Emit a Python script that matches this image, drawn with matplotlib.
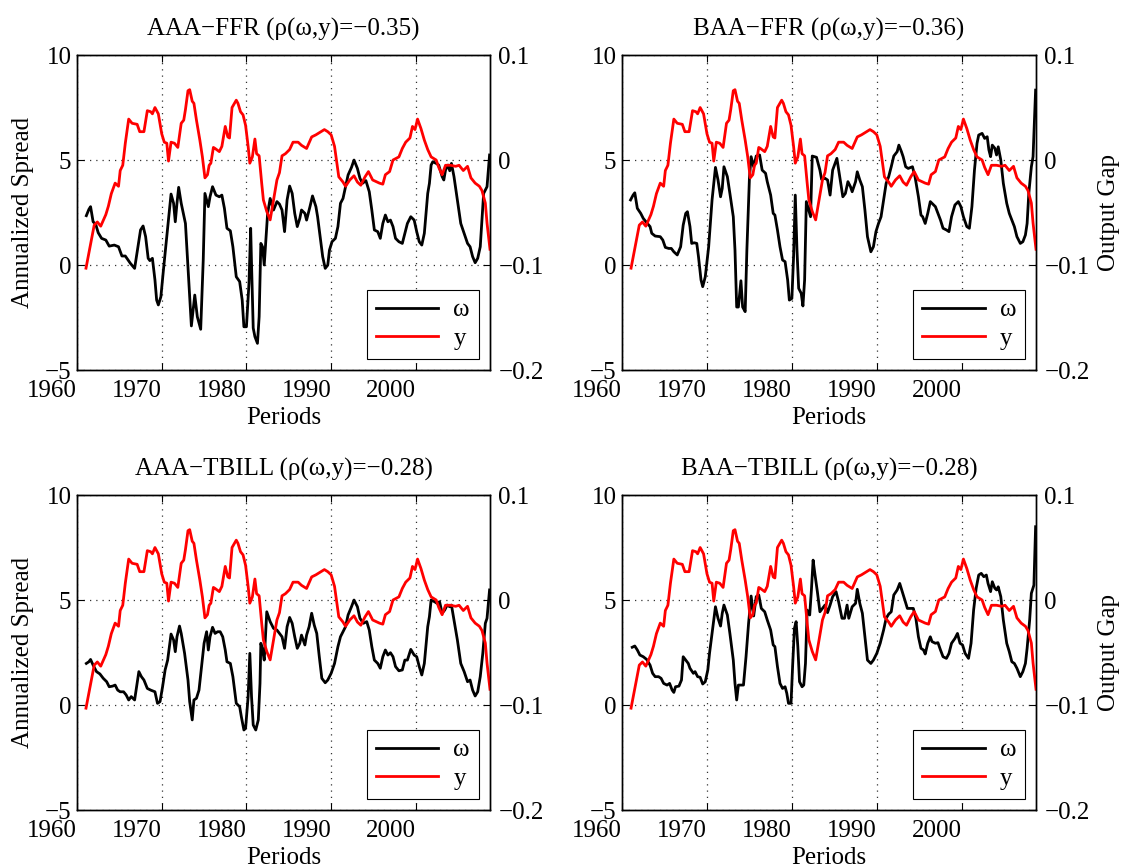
import matplotlib
matplotlib.use('Agg')
import matplotlib.pyplot as plt
from matplotlib.lines import Line2D

plt.rcParams['font.family'] = ['Liberation Serif', 'DejaVu Serif']
plt.rcParams['font.size'] = 18
plt.rcParams['axes.unicode_minus'] = True

# output gap (right axis), same in all four panels
gap_years = [1961.06, 1962.03, 1962.4, 1962.8, 1963.4, 1963.7, 1964.05, 1964.5, 1964.9, 1965.1,
             1965.4, 1965.7, 1966.1, 1966.5, 1967.1, 1967.4, 1967.9, 1968.3, 1968.7, 1968.9,
             1969.2, 1969.6, 1970.0, 1970.3, 1970.6, 1970.8, 1971.1, 1971.5, 1971.9, 1972.3,
             1972.6, 1972.8, 1973.1, 1973.3, 1973.6, 1973.8, 1974.1, 1974.5, 1974.8, 1975.1,
             1975.4, 1975.6, 1975.8, 1976.1, 1976.3, 1976.8, 1977.1, 1977.5, 1977.8, 1978.0,
             1978.3, 1978.8, 1979.0, 1979.3, 1979.6, 1979.9, 1980.2, 1980.4, 1980.7, 1981.0,
             1981.2, 1981.5, 1981.8, 1982.0, 1982.4, 1982.8, 1983.2, 1983.6, 1983.9, 1984.2,
             1984.6, 1985.1, 1985.5, 1986.1, 1986.5, 1987.1, 1987.7, 1988.2, 1988.8, 1989.2,
             1989.6, 1990.0, 1990.4, 1990.9, 1991.4, 1991.7, 1992.2, 1992.7, 1993.1, 1993.5,
             1994.0, 1994.4, 1994.9, 1995.7, 1996.1, 1996.4, 1996.9, 1997.3, 1998.0, 1998.4,
             1998.8, 1999.3, 1999.6, 1999.9, 2000.2, 2000.6, 2001.0, 2001.4, 2001.8, 2002.4,
             2002.7, 2003.1, 2003.5, 2004.1, 2004.7, 2005.1, 2005.6, 2006.1, 2006.5, 2007.0,
             2007.5, 2007.8, 2008.2, 2008.4, 2008.75]
output_gap = [-0.103, -0.062, -0.059, -0.063, -0.052, -0.044, -0.032, -0.022, -0.025, -0.010,
              -0.005, 0.016, 0.039, 0.035, 0.034, 0.027, 0.027, 0.047, 0.046, 0.044,
              0.050, 0.044, 0.025, 0.017, 0.016, -0.001, 0.017, 0.016, 0.012, 0.035,
              0.038, 0.048, 0.066, 0.067, 0.056, 0.054, 0.038, 0.019, 0.003, -0.017,
              -0.014, -0.005, -0.003, 0.012, 0.011, 0.008, 0.013, 0.032, 0.022, 0.021,
              0.050, 0.057, 0.054, 0.046, 0.043, 0.033, 0.013, -0.003, 0.003, 0.020,
              0.006, 0.004, -0.022, -0.038, -0.049, -0.057, -0.038, -0.019, -0.012, 0.004,
              0.006, 0.010, 0.017, 0.017, 0.014, 0.011, 0.022, 0.024, 0.027, 0.029,
              0.027, 0.024, 0.013, -0.016, -0.021, -0.025, -0.019, -0.015, -0.021, -0.024,
              -0.016, -0.011, -0.019, -0.022, -0.023, -0.014, -0.011, 0.000, 0.003, 0.011,
              0.017, 0.021, 0.032, 0.029, 0.039, 0.030, 0.019, 0.010, 0.003, 0.000,
              -0.007, -0.014, -0.005, -0.005, -0.006, -0.005, -0.010, -0.006, -0.017, -0.022,
              -0.025, -0.029, -0.041, -0.060, -0.085]

# AAA-FFR spread
aaa_ffr_years = [1961.1, 1961.4, 1961.6, 1961.9, 1962.2, 1962.5, 1962.9, 1963.4, 1963.8, 1964.4,
                 1964.9, 1965.3, 1965.7, 1966.3, 1966.8, 1967.2, 1967.5, 1967.8, 1968.1, 1968.4,
                 1968.6, 1968.9, 1969.2, 1969.4, 1969.6, 1969.9, 1970.2, 1970.6, 1971.1, 1971.4,
                 1971.6, 1971.8, 1972.0, 1972.3, 1972.8, 1973.1, 1973.5, 1973.9, 1974.2, 1974.6,
                 1974.9, 1975.1, 1975.5, 1975.7, 1976.0, 1976.4, 1976.8, 1977.1, 1977.4, 1977.7,
                 1978.1, 1978.4, 1978.8, 1979.2, 1979.5, 1979.7, 1980.0, 1980.3, 1980.5, 1980.6,
                 1980.8, 1981.0, 1981.3, 1981.5, 1981.7, 1981.9, 1982.1, 1982.5, 1982.8, 1983.2,
                 1983.6, 1983.9, 1984.2, 1984.5, 1984.8, 1985.1, 1985.4, 1985.7, 1986.0, 1986.3,
                 1986.5, 1986.9, 1987.1, 1987.5, 1987.8, 1988.2, 1988.4, 1988.7, 1989.0, 1989.3,
                 1989.6, 1989.8, 1990.1, 1990.5, 1990.8, 1991.1, 1991.4, 1991.7, 1992.0, 1992.4,
                 1992.7, 1993.1, 1993.4, 1993.7, 1994.1, 1994.5, 1994.8, 1995.1, 1995.5, 1995.8,
                 1996.1, 1996.4, 1996.7, 1997.0, 1997.3, 1997.6, 1998.0, 1998.4, 1998.7, 1999.0,
                 1999.4, 1999.8, 2000.1, 2000.4, 2000.7, 2001.0, 2001.4, 2001.6, 2001.8, 2002.0,
                 2002.4, 2002.7, 2003.1, 2003.3, 2003.5, 2003.8, 2004.0, 2004.2, 2004.5, 2004.9,
                 2005.3, 2005.7, 2006.1, 2006.4, 2006.7, 2007.0, 2007.3, 2007.6, 2007.8, 2008.0,
                 2008.2, 2008.4, 2008.7]
aaa_ffr = [2.35, 2.65, 2.78, 2.06, 1.95, 1.54, 1.27, 1.19, 0.90, 0.95,
           0.87, 0.43, 0.43, 0.08, -0.16, 0.87, 1.67, 1.86, 1.35, 0.32,
           0.21, 0.32, -0.71, -1.67, -1.90, -1.51, -0.24, 1.35, 3.38, 2.94,
           2.06, 2.94, 3.70, 2.94, 1.98, -0.08, -2.90, -1.43, -2.46, -3.06,
           0.24, 3.41, 2.78, 3.25, 3.73, 3.33, 3.25, 3.33, 2.70, 1.75,
           1.63, 0.87, -0.56, -0.79, -1.67, -2.94, -2.94, -0.87, 1.75, 0.08,
           -3.00, -3.41, -3.73, -2.46, 1.03, 0.87, 0.00, 2.46, 3.17, 2.62,
           3.02, 2.90, 2.62, 1.59, 3.10, 3.76, 3.41, 2.46, 1.83, 2.22,
           2.62, 2.46, 2.14, 2.78, 3.29, 2.78, 2.30, 1.35, 0.40, -0.16,
           0.00, 0.71, 1.11, 1.27, 1.83, 2.94, 3.17, 3.73, 4.29, 4.65,
           5.00, 4.60, 4.13, 3.89, 4.02, 3.49, 2.62, 1.67, 1.59, 1.27,
           1.98, 2.38, 2.06, 2.14, 1.83, 1.27, 1.11, 1.03, 1.51, 1.98,
           2.30, 2.14, 1.59, 1.11, 0.95, 1.51, 3.41, 3.89, 4.76, 4.92,
           4.84, 4.76, 4.21, 4.05, 4.52, 4.76, 4.49, 4.84, 4.21, 3.10,
           1.98, 1.51, 1.03, 0.87, 0.40, 0.11, 0.32, 0.87, 2.14, 3.41,
           3.57, 3.73, 5.24]

# BAA-FFR spread
baa_ffr_years = [1961.0, 1961.3, 1961.5, 1961.8, 1962.2, 1962.5, 1962.9, 1963.3, 1963.5, 1963.9,
                 1964.5, 1964.8, 1965.1, 1965.5, 1965.8, 1966.1, 1966.5, 1966.9, 1967.2, 1967.5,
                 1967.7, 1968.0, 1968.2, 1968.5, 1968.8, 1969.0, 1969.3, 1969.5, 1969.8, 1970.2,
                 1970.6, 1971.0, 1971.3, 1971.6, 1971.8, 1972.0, 1972.4, 1972.7, 1973.1, 1973.3,
                 1973.5, 1973.7, 1974.0, 1974.2, 1974.5, 1974.7, 1975.0, 1975.2, 1975.5, 1975.8,
                 1976.2, 1976.5, 1976.9, 1977.1, 1977.5, 1977.8, 1978.0, 1978.3, 1978.6, 1978.9,
                 1979.2, 1979.5, 1979.7, 1980.0, 1980.2, 1980.4, 1980.6, 1980.8, 1981.1, 1981.3,
                 1981.5, 1981.7, 1982.2, 1982.4, 1982.9, 1983.3, 1983.5, 1983.9, 1984.2, 1984.5,
                 1984.8, 1985.3, 1985.7, 1986.0, 1986.3, 1986.6, 1986.9, 1987.1, 1987.5, 1987.7,
                 1988.0, 1988.3, 1988.6, 1988.9, 1989.3, 1989.6, 1989.9, 1990.2, 1990.5, 1990.8,
                 1991.1, 1991.4, 1991.7, 1992.0, 1992.4, 1992.6, 1992.9, 1993.1, 1993.4, 1993.7,
                 1994.2, 1994.5, 1994.9, 1995.2, 1995.4, 1995.7, 1996.0, 1996.3, 1996.5, 1996.9,
                 1997.2, 1997.5, 1997.8, 1998.2, 1998.5, 1998.8, 1999.2, 1999.6, 1999.9, 2000.2,
                 2000.6, 2000.9, 2001.2, 2001.5, 2001.8, 2002.0, 2002.4, 2002.7, 2003.0, 2003.2,
                 2003.4, 2003.6, 2003.9, 2004.1, 2004.3, 2004.6, 2004.9, 2005.3, 2005.6, 2005.9,
                 2006.2, 2006.5, 2006.9, 2007.2, 2007.5, 2007.7, 2007.9, 2008.2, 2008.4, 2008.7]
baa_ffr = [3.10, 3.33, 3.44, 2.70, 2.46, 2.22, 2.02, 1.83, 1.51, 1.38,
           1.35, 1.19, 0.84, 0.79, 0.79, 0.63, 0.48, 0.87, 1.90, 2.46,
           2.54, 1.83, 1.03, 1.06, 1.03, 0.40, -0.71, -1.03, -0.56, 0.87,
           3.10, 4.65, 4.05, 3.25, 3.65, 4.68, 4.21, 3.41, 2.30, 0.71,
           -2.00, -2.00, -0.75, -2.00, -2.22, 0.71, 4.13, 5.16, 4.68, 5.19,
           5.24, 4.52, 4.37, 3.97, 3.33, 2.46, 2.38, 1.67, 0.87, 0.24,
           0.16, -0.71, -1.67, -1.59, 0.40, 3.33, 0.71, -1.11, -1.35, -1.95,
           -0.71, 3.02, 2.30, 5.19, 5.13, 4.52, 4.08, 4.13, 4.05, 3.33,
           4.52, 5.08, 4.05, 3.25, 3.41, 3.97, 3.73, 3.49, 3.97, 4.44,
           4.05, 3.73, 2.62, 1.35, 0.63, 0.87, 1.59, 1.98, 2.30, 3.10,
           3.89, 4.21, 4.68, 5.19, 5.40, 5.71, 5.40, 5.16, 4.68, 4.60,
           4.68, 4.21, 3.25, 2.38, 2.30, 1.98, 2.46, 3.02, 2.94, 2.78,
           2.46, 2.14, 1.75, 1.67, 1.59, 2.30, 2.86, 3.02, 2.78, 2.30,
           1.83, 1.75, 2.78, 4.52, 5.79, 6.19, 6.27, 6.03, 6.11, 5.48,
           5.16, 5.71, 5.56, 5.24, 5.63, 5.00, 3.89, 2.94, 2.46, 2.14,
           1.83, 1.35, 1.03, 1.11, 1.43, 1.98, 3.41, 4.68, 5.16, 8.33]

# AAA-TBILL spread
aaa_tb_years = [1961.1, 1961.4, 1961.6, 1961.9, 1962.3, 1962.7, 1963.1, 1963.5, 1963.8, 1964.2,
                1964.5, 1964.8, 1965.1, 1965.5, 1965.8, 1966.1, 1966.4, 1966.8, 1967.1, 1967.3,
                1967.6, 1967.9, 1968.3, 1968.7, 1968.9, 1969.2, 1969.5, 1969.8, 1970.1, 1970.4,
                1970.7, 1971.1, 1971.4, 1971.6, 1971.8, 1972.1, 1972.3, 1972.7, 1973.1, 1973.3,
                1973.6, 1973.8, 1974.1, 1974.4, 1974.7, 1975.0, 1975.3, 1975.5, 1975.7, 1976.0,
                1976.3, 1976.6, 1976.9, 1977.2, 1977.5, 1977.7, 1978.1, 1978.4, 1978.8, 1979.2,
                1979.4, 1979.7, 1979.9, 1980.2, 1980.4, 1980.6, 1980.8, 1981.1, 1981.4, 1981.6,
                1981.7, 1981.9, 1982.1, 1982.4, 1982.8, 1983.2, 1983.6, 1983.9, 1984.2, 1984.5,
                1984.8, 1985.1, 1985.4, 1985.7, 1986.0, 1986.3, 1986.5, 1986.9, 1987.1, 1987.4,
                1987.7, 1988.0, 1988.3, 1988.6, 1988.9, 1989.3, 1989.6, 1990.0, 1990.4, 1990.8,
                1991.1, 1991.4, 1991.7, 1992.0, 1992.4, 1992.7, 1993.1, 1993.4, 1993.8, 1994.2,
                1994.5, 1994.8, 1995.1, 1995.5, 1995.8, 1996.1, 1996.4, 1996.7, 1997.0, 1997.3,
                1997.6, 1998.0, 1998.4, 1998.7, 1999.0, 1999.4, 1999.8, 2000.1, 2000.4, 2000.7,
                2001.0, 2001.4, 2001.6, 2001.8, 2002.2, 2002.5, 2002.8, 2003.1, 2003.4, 2003.7,
                2004.0, 2004.2, 2004.5, 2004.9, 2005.3, 2005.7, 2006.1, 2006.4, 2006.7, 2007.0,
                2007.3, 2007.6, 2007.9, 2008.2, 2008.4, 2008.7]
aaa_tb = [1.98, 2.06, 2.17, 1.90, 1.59, 1.48, 1.27, 1.11, 0.87, 0.90,
          0.95, 0.71, 0.63, 0.63, 0.48, 0.24, 0.40, 0.24, 1.03, 1.59,
          1.35, 1.19, 0.79, 0.71, 0.68, 0.63, 0.08, 0.16, 0.87, 1.67,
          2.14, 3.38, 3.10, 2.54, 3.25, 3.76, 3.41, 2.46, 1.19, 0.16,
          -0.71, 0.24, 0.32, 0.71, 1.83, 2.94, 3.49, 2.62, 3.25, 3.70,
          3.41, 3.49, 3.49, 3.25, 2.62, 2.06, 1.98, 1.35, 0.08, -0.08,
          -0.56, -1.19, -1.11, 0.40, 2.46, 0.40, -0.95, -1.19, -0.71, 1.03,
          2.94, 2.62, 2.14, 4.44, 3.97, 3.65, 3.57, 3.41, 3.25, 2.70,
          3.73, 4.17, 3.89, 3.25, 2.70, 2.94, 3.33, 2.86, 3.33, 3.73,
          4.37, 3.81, 3.41, 2.30, 1.27, 1.06, 1.19, 1.51, 1.98, 2.78,
          3.25, 3.49, 3.73, 4.29, 4.68, 5.00, 4.68, 4.13, 3.89, 3.97,
          3.57, 2.78, 2.14, 1.98, 1.75, 2.30, 2.62, 2.38, 2.49, 2.30,
          1.83, 1.63, 1.67, 2.14, 2.14, 2.65, 2.38, 2.30, 1.83, 1.43,
          1.98, 3.73, 4.21, 5.00, 4.92, 4.84, 4.92, 4.37, 4.52, 4.76,
          4.68, 4.76, 4.05, 3.10, 1.98, 1.59, 1.11, 1.19, 0.71, 0.43,
          0.63, 1.35, 2.46, 3.89, 4.13, 5.48]

# BAA-TBILL spread
baa_tb_years = [1961.2, 1961.5, 1961.8, 1962.1, 1962.5, 1962.9, 1963.3, 1963.6, 1963.9, 1964.3,
                1964.6, 1964.9, 1965.3, 1965.6, 1965.9, 1966.1, 1966.3, 1966.7, 1967.0, 1967.2,
                1967.5, 1967.8, 1968.0, 1968.4, 1968.6, 1968.9, 1969.2, 1969.5, 1969.8, 1970.1,
                1970.3, 1970.6, 1971.0, 1971.3, 1971.6, 1971.8, 1972.0, 1972.4, 1972.7, 1973.1,
                1973.3, 1973.5, 1973.7, 1974.0, 1974.3, 1974.6, 1974.9, 1975.2, 1975.5, 1975.8,
                1976.1, 1976.4, 1976.8, 1977.1, 1977.5, 1977.8, 1978.0, 1978.3, 1978.6, 1978.9,
                1979.2, 1979.4, 1979.6, 1979.9, 1980.1, 1980.3, 1980.5, 1980.7, 1980.9, 1981.2,
                1981.4, 1981.6, 1981.8, 1982.1, 1982.3, 1982.5, 1982.7, 1983.0, 1983.3, 1983.6,
                1983.9, 1984.2, 1984.5, 1984.8, 1985.2, 1985.5, 1985.9, 1986.2, 1986.5, 1986.7,
                1987.1, 1987.5, 1987.7, 1988.0, 1988.3, 1988.6, 1988.9, 1989.3, 1989.6, 1990.0,
                1990.4, 1990.8, 1991.1, 1991.4, 1991.7, 1992.0, 1992.4, 1992.7, 1993.0, 1993.3,
                1993.6, 1994.0, 1994.3, 1994.6, 1994.9, 1995.2, 1995.5, 1995.7, 1996.0, 1996.3,
                1996.5, 1996.9, 1997.2, 1997.5, 1997.8, 1998.2, 1998.5, 1998.8, 1999.2, 1999.5,
                1999.8, 2000.1, 2000.4, 2000.8, 2001.1, 2001.4, 2001.7, 2002.0, 2002.3, 2002.6,
                2002.9, 2003.1, 2003.4, 2003.6, 2003.9, 2004.1, 2004.3, 2004.6, 2004.9, 2005.3,
                2005.6, 2005.9, 2006.2, 2006.5, 2006.9, 2007.2, 2007.5, 2007.7, 2008.0, 2008.2,
                2008.5, 2008.7]
baa_tb = [2.75, 2.81, 2.62, 2.38, 2.30, 2.17, 1.90, 1.51, 1.35, 1.35,
          1.27, 1.03, 0.95, 1.03, 0.71, 0.60, 0.87, 0.90, 1.19, 2.30,
          2.14, 1.98, 1.75, 1.51, 1.59, 1.35, 1.32, 1.00, 1.11, 1.67,
          2.46, 3.41, 4.68, 4.13, 3.76, 4.37, 4.76, 4.29, 3.41, 2.14,
          1.03, 0.24, 0.95, 0.95, 0.95, 2.30, 3.89, 5.19, 4.24, 5.16,
          5.24, 4.60, 4.44, 4.05, 3.57, 2.86, 2.78, 1.83, 1.03, 0.79,
          0.87, 0.56, 0.08, 0.08, 1.98, 3.65, 3.97, 2.78, 1.11, 0.87,
          0.95, 1.98, 4.52, 4.29, 5.48, 6.90, 6.27, 5.40, 4.44, 4.60,
          4.76, 4.40, 4.76, 5.16, 5.40, 4.92, 4.13, 4.13, 4.76, 4.13,
          4.68, 4.84, 5.51, 4.84, 4.37, 3.25, 2.14, 1.98, 2.14, 2.46,
          2.94, 3.57, 4.13, 4.33, 4.44, 5.24, 5.48, 5.79, 5.40, 5.00,
          4.60, 4.60, 4.60, 4.13, 3.25, 2.70, 2.62, 2.43, 2.94, 3.25,
          3.02, 2.94, 2.97, 2.62, 2.30, 2.22, 2.46, 2.94, 3.17, 3.41,
          2.94, 2.86, 2.46, 2.22, 2.94, 4.52, 5.56, 6.19, 6.27, 6.11,
          6.19, 5.79, 5.40, 5.87, 5.56, 5.48, 5.63, 5.16, 4.05, 2.94,
          2.54, 2.06, 1.98, 1.75, 1.35, 1.59, 1.98, 2.70, 4.05, 5.32,
          5.71, 8.49]

titles = ['AAA\u2212FFR (\u03c1(\u03c9,y)=\u22120.35)', 'BAA\u2212FFR (\u03c1(\u03c9,y)=\u22120.36)',
          'AAA\u2212TBILL (\u03c1(\u03c9,y)=\u22120.28)', 'BAA\u2212TBILL (\u03c1(\u03c9,y)=\u22120.28)']
spread_years = [aaa_ffr_years, baa_ffr_years, aaa_tb_years, baa_tb_years]
spreads = [aaa_ffr, baa_ffr, aaa_tb, baa_tb]

x_ticks = [1960, 1970, 1980, 1990, 2000]
left_ticks = [-5, 0, 5, 10]
right_ticks = [-0.2, -0.1, 0, 0.1]
right_labels = ['\u22120.2', '\u22120.1', '0', '0.1']

fig = plt.figure(figsize=(11.21, 8.68), dpi=100)
positions = [[0.0687, 0.5737, 0.3684, 0.3629], [0.5549, 0.5737, 0.3693, 0.3629],
             [0.0687, 0.0668, 0.3684, 0.3629], [0.5549, 0.0668, 0.3693, 0.3629]]

for i in range(4):
    ax = fig.add_axes(positions[i])
    ax.plot(spread_years[i], spreads[i], color='black', lw=2)
    ax.set_xlim(1960, 2008.75)
    ax.set_ylim(-5, 10)
    ax.set_xticks(x_ticks)
    ax.set_yticks(left_ticks)
    ax.grid(True, linestyle=(0, (1, 4)), color='#333333', lw=0.9)
    ax.tick_params(direction='in', top=True, length=5, labelsize=18, pad=4)
    ax.tick_params(axis='x', pad=7)
    for lab in ax.get_xticklabels():
        lab.set_horizontalalignment('right')
    ax.set_title(titles[i], fontsize=18, pad=14)
    ax.set_xlabel('Periods', fontsize=18, labelpad=4)
    if i % 2 == 0:
        ax.set_ylabel('Annualized Spread', fontsize=18, labelpad=8)

    ax2 = ax.twinx()
    ax2.plot(gap_years, output_gap, color='red', lw=2)
    ax2.set_ylim(-0.2, 0.1)
    ax2.set_yticks(right_ticks)
    ax2.set_yticklabels(right_labels)
    ax2.tick_params(direction='in', length=5, labelsize=18, pad=6)
    if i % 2 == 1:
        ax2.set_ylabel('Output Gap', fontsize=18, labelpad=6)
    for sp in list(ax.spines.values()) + list(ax2.spines.values()):
        sp.set_linewidth(1.0)

    handles = [Line2D([], [], color='black', lw=2), Line2D([], [], color='red', lw=2)]
    leg = ax2.legend(handles, ['\u03c9', 'y'], loc='lower right', fancybox=False,
                     edgecolor='black', framealpha=1, handlelength=2.5,
                     borderaxespad=0.45, fontsize=18, labelspacing=0.25,
                     borderpad=0.35, handletextpad=0.6)
    leg.get_frame().set_linewidth(0.8)

fig.savefig('out.png', dpi=100)
